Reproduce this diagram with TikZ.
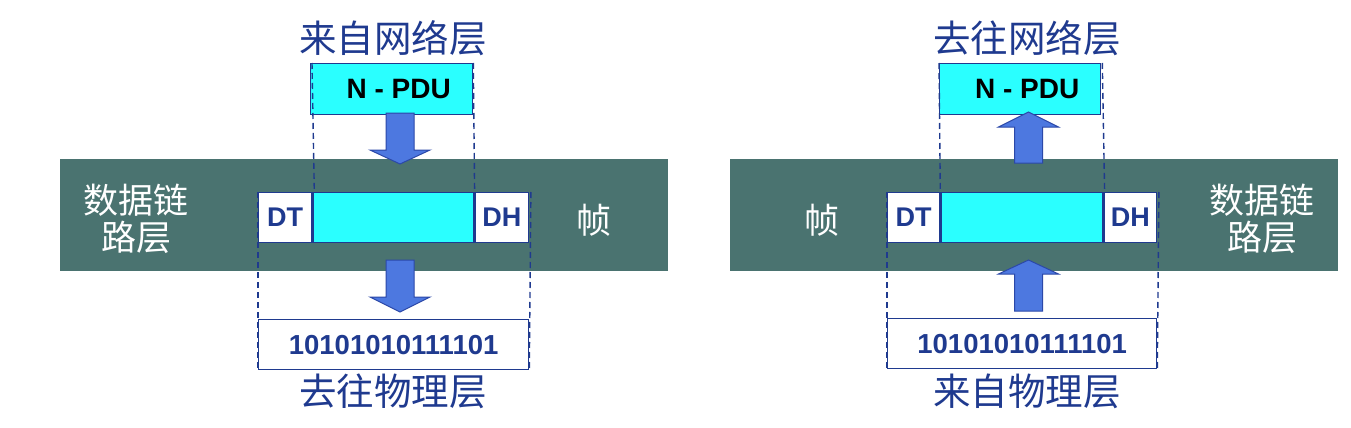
\documentclass[tikz,border=0pt]{standalone}
\usepackage{fontspec}
\setmainfont{Liberation Sans}
\newfontfamily\cjk{Noto Sans CJK SC}
\definecolor{band}{HTML}{4A7370}
\definecolor{cyanf}{HTML}{2AFFFF}
\definecolor{dblue}{HTML}{1F3A8F}
\definecolor{arrf}{HTML}{4D78E0}
\definecolor{arrd}{HTML}{2B48A8}
\tikzset{
  bandbox/.style={fill=band,draw=none},
  cellbox/.style={draw=dblue,line width=1.3pt,inner sep=0pt,anchor=north west},
  lat/.style={font=\bfseries\fontsize{27}{27}\selectfont,text=dblue},
  bits/.style={font=\bfseries\fontsize{27.5}{27.5}\selectfont,text=dblue},
  cnlab/.style={font=\cjk\fontsize{37.5}{40}\selectfont,text=dblue},
  cnwhite/.style={font=\cjk\fontsize{35}{37}\selectfont,text=white,align=center,inner sep=0pt},
  dsh/.style={draw=dblue,line width=1.4pt,dash pattern=on 6pt off 4pt},
  blk/.style={fill=arrf,draw=arrd,line width=1pt,line join=miter}
}
% block arrows: #1 center x, #2 shaft start y, #3 head base y, #4 tip y
\newcommand\blkarrow[4]{%
  \draw[blk] (#1-14,#2) -- (#1+14,#2) -- (#1+14,#3) -- (#1+30,#3) -- (#1,#4) -- (#1-30,#3) -- (#1-14,#3) -- cycle;}
\begin{document}
\begin{tikzpicture}[x=1pt,y=-1pt]
\useasboundingbox (0,0) rectangle (1351,428);
\fill[white] (0,0) rectangle (1351,428);
% ================= LEFT =================
\fill[bandbox] (60,159) rectangle (668,271);
\node[cnlab] (ltop) at (393,38) {来自网络层};
\node[cellbox,fill=cyanf,minimum width=162pt,minimum height=51pt] (lpdu) at (310,63) {};
\node[font=\bfseries\fontsize{28}{28}\selectfont,text=black] (lpdut) at ([xshift=7pt]lpdu.center) {N - PDU};
\node[cellbox,fill=white,minimum width=53pt,minimum height=50pt] (ldt) at (258,192) {};
\node[cellbox,fill=cyanf,minimum width=161pt,minimum height=50pt] (lmid) at (ldt.north east) {};
\node[cellbox,fill=white,minimum width=53pt,minimum height=50pt] (ldh) at (lmid.north east) {};
\node[lat] at (ldt.center) {DT};
\node[lat] at (ldh.center) {DH};
\node[cellbox,fill=white,minimum width=270pt,minimum height=50pt] (lbits) at (258,319) {};
\node[bits] at (lbits.center) {10101010111101};
\node[cnlab] (lbot) at (393,391) {去往物理层};
\node[cnwhite] (lname) at (136,219) {数据链\\路层};
\node[cnwhite] (lzhen) at (594,220) {帧};
\draw[dsh] ([xshift=2pt]lpdu.north west) -- ([xshift=2pt]lmid.north west);
\draw[dsh] (lpdu.north east) -- (lmid.north east);
\draw[dsh] (ldt.north west) -- (lbits.south west);
\draw[dsh] ([xshift=2pt]ldh.north east) -- (lbits.south east);
\blkarrow{400}{113}{150}{164}
\blkarrow{400}{260}{297}{312}
% ================= RIGHT =================
\fill[bandbox] (730,159) rectangle (1338,271);
\node[cnlab] (rtop) at (1027,38) {去往网络层};
\node[cellbox,fill=cyanf,minimum width=161pt,minimum height=51pt] (rpdu) at (939,63) {};
\node[font=\bfseries\fontsize{28}{28}\selectfont,text=black] (rpdut) at ([xshift=7pt]rpdu.center) {N - PDU};
\node[cellbox,fill=white,minimum width=52pt,minimum height=50pt] (rdt) at (887,192) {};
\node[cellbox,fill=cyanf,minimum width=162pt,minimum height=50pt] (rmid) at (rdt.north east) {};
\node[cellbox,fill=white,minimum width=52pt,minimum height=50pt] (rdh) at (rmid.north east) {};
\node[lat] at (rdt.center) {DT};
\node[lat] at (rdh.center) {DH};
\node[cellbox,fill=white,minimum width=269pt,minimum height=50pt] (rbits) at (887,318) {};
\node[bits] at (rbits.center) {10101010111101};
\node[cnlab] (rbot) at (1027,391) {来自物理层};
\node[cnwhite] (rname) at (1262,219) {数据链\\路层};
\node[cnwhite] (rzhen) at (822,220) {帧};
\draw[dsh] (rpdu.north west) -- (rmid.north west);
\draw[dsh] ([xshift=1pt]rpdu.north east) -- ([xshift=1pt]rmid.north east);
\draw[dsh] (rdt.north west) -- (rbits.south west);
\draw[dsh] ([xshift=2pt]rdh.north east) -- (rbits.south east);
\blkarrow{1028.5}{163}{127}{112}
\blkarrow{1028.5}{311}{274}{260}
\end{tikzpicture}
\end{document}
